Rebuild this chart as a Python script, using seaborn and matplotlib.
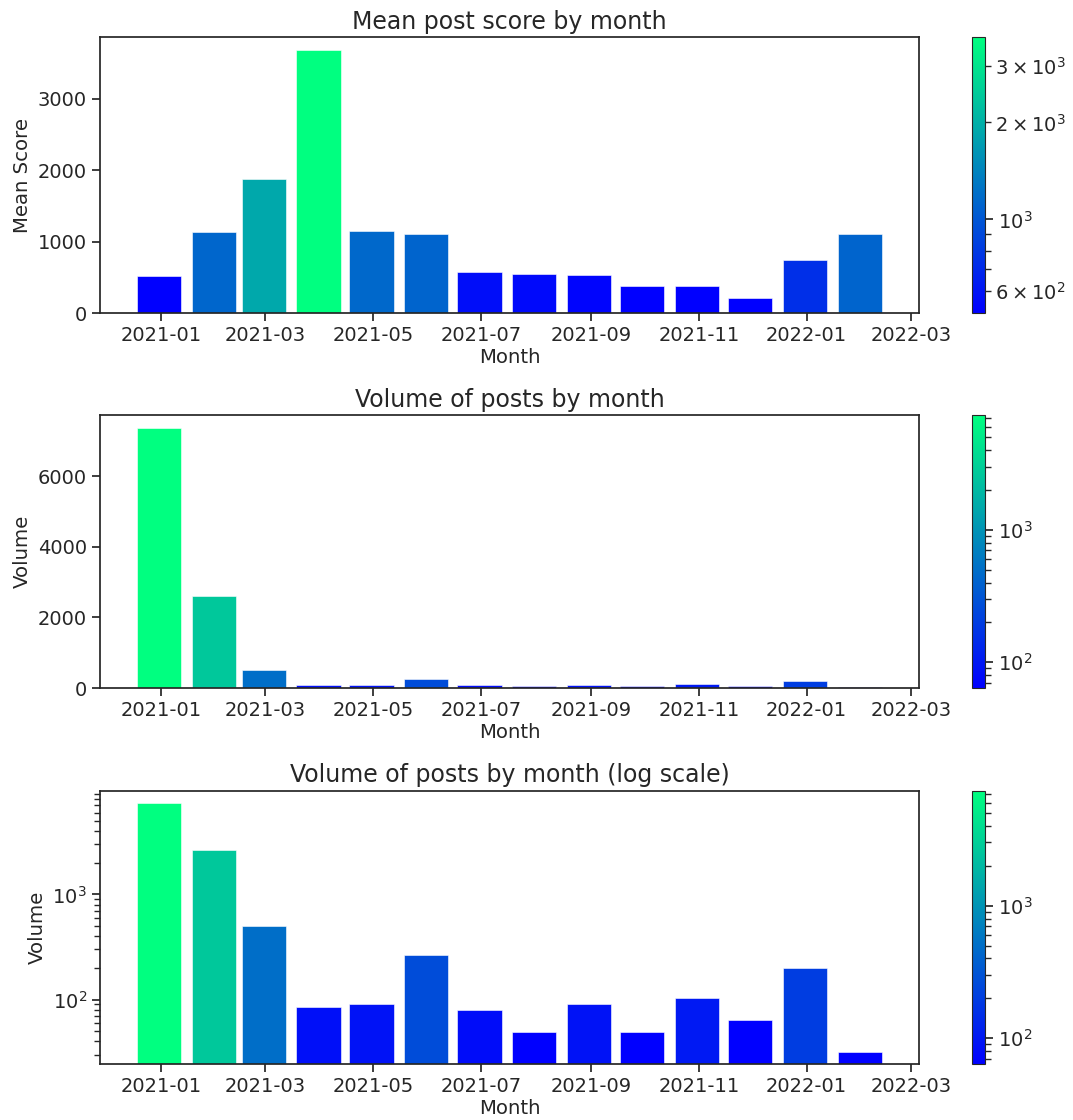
import pandas as pd
import matplotlib
matplotlib.use("Agg")
import matplotlib.pyplot as plt
import matplotlib.dates as mdates
from matplotlib.colors import LogNorm
import seaborn as sns

# === Data (month-end labels) ===
months = ["2020-12-31", "2021-01-31", "2021-02-28", "2021-03-31", "2021-04-30",
          "2021-05-31", "2021-06-30", "2021-07-31", "2021-08-31", "2021-09-30",
          "2021-10-31", "2021-11-30", "2021-12-31", "2022-01-31"]
mean_score = [512, 1131, 1880, 3681, 1149, 1111, 568, 549, 530, 380, 380, 211, 737, 1111]
volume = [7370, 2615, 500, 85, 90, 263, 80, 49, 90, 49, 103, 64, 201, 32]

# colour scale limits seen on the colorbars
score_lims = (512, 3681)
volume_lims = (64, 7370)

sns.set_theme(style="ticks", rc={
    "xtick.labelsize": 14,
    "ytick.labelsize": 14,
    "axes.labelsize": 14.2,
    "axes.titlesize": 17,
})
plt.rcParams["font.family"] = ["DejaVu Sans"]

dates = pd.to_datetime(months)

fig = plt.figure(figsize=(10.73, 11.2), dpi=100)

# (bottom, height) of each row, in figure fractions
rows = [(0.7205, 0.2464), (0.3857, 0.2438), (0.0500, 0.2440)]
panels = [
    (mean_score, score_lims, "Mean post score by month", "Mean Score", False),
    (volume, volume_lims, "Volume of posts by month", "Volume", False),
    (volume, volume_lims, "Volume of posts by month (log scale)", "Volume", True),
]

for (bottom, height), (vals, lims, title, ylabel, logy) in zip(rows, panels):
    ax = fig.add_axes([0.0932, bottom, 0.7633, height])
    cax = fig.add_axes([0.9059, bottom, 0.0121, height])

    norm = LogNorm(vmin=lims[0], vmax=lims[1])
    colors = plt.cm.winter(norm(vals))
    ax.bar(dates, vals, width=25, color=colors, edgecolor="white", linewidth=0.4)
    if logy:
        ax.set_yscale("log")

    ax.xaxis.set_major_locator(mdates.MonthLocator(bymonth=[1, 3, 5, 7, 9, 11]))
    ax.xaxis.set_major_formatter(mdates.DateFormatter("%Y-%m"))
    ax.set_title(title)
    ax.set_xlabel("Month", labelpad=2)
    ax.set_ylabel(ylabel)

    sm = plt.cm.ScalarMappable(norm=norm, cmap="winter")
    cb = fig.colorbar(sm, cax=cax)
    cb.outline.set_linewidth(0.8)

fig.savefig("out.png", dpi=100)
